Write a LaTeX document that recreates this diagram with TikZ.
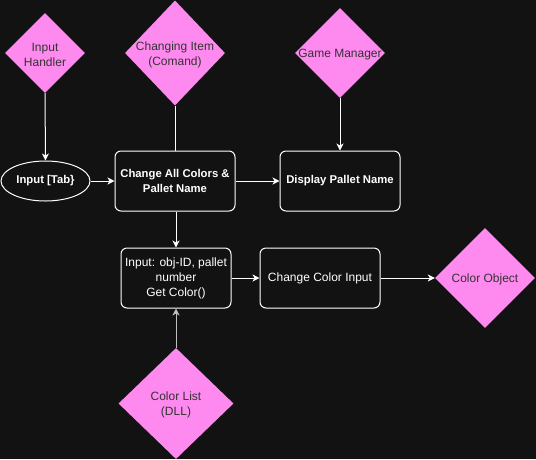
\documentclass[tikz,border=0pt]{standalone}
\usepackage{fontspec}
\setmainfont{Liberation Sans}
\usetikzlibrary{arrows.meta,shapes.geometric}
\definecolor{bgcol}{HTML}{121212}
\definecolor{pinkcol}{HTML}{FF8AEF}
\definecolor{darktxt}{HTML}{333333}
\tikzset{
  dia/.style={diamond, fill=pinkcol, inner sep=0pt, aspect=1},
  box/.style={draw=white, line width=1pt, rounded corners=6pt, fill=bgcol,
    text=white, align=center, minimum height=60pt, inner sep=0pt},
  arr/.style={draw=white, line width=1pt, -{Stealth[length=7pt,width=7pt,inset=2pt]}},
  txt/.style={font=\fontsize{12}{15}\selectfont},
  boldtxt/.style={font=\fontsize{11.3}{15}\selectfont\bfseries},
  diatxt/.style={text=darktxt, align=center, txt, yshift=-1.5pt}
}
\begin{document}
\begin{tikzpicture}[x=1pt,y=-1pt,txt]
\fill[bgcol] (0,0) rectangle (536,459);
\useasboundingbox (0,0) rectangle (536,459);
% diamonds
\node[dia, minimum width=80pt, minimum height=80pt,
  label={[diatxt]center:Input\\Handler}] (ih) at (45,53) {};
\node[dia, minimum width=100pt, minimum height=105pt,
  label={[diatxt]center:Changing Item\\(Comand)}] (ci) at (175,53) {};
\node[dia, minimum width=90pt, minimum height=90pt,
  label={[diatxt]center:Game Manager}] (gm) at (340,53) {};
\node[dia, minimum width=100pt, minimum height=100pt,
  label={[diatxt]center:Color Object}] (co) at (485,278) {};
\node[dia, minimum width=115pt, minimum height=111pt,
  label={[diatxt]center:Color List\\(DLL)}] (cl) at (176,403.5) {};
% boxes
\node[ellipse, draw=white, line width=1pt, text=white, boldtxt,
  minimum width=89pt, minimum height=40pt, inner sep=0pt] (tab) at (45.5,181) {Input [Tab\}};
\node[box, minimum width=120pt, boldtxt] (chg) at (175,181) {Change All Colors \&\\Pallet Name};
\node[box, minimum width=120pt, boldtxt] (disp) at (340,181) {Display Pallet Name};
\node[box, minimum width=110pt] (inp) at (176,278) {Input: obj-ID, pallet\\number\\Get Color()};
\node[box, minimum width=120pt] (cci) at (320,278) {Change Color Input};
% connectors
\draw[arr] (ih.south) -- (tab.north);
\draw[white, line width=1pt] (ci.south) -- (chg.north);
\draw[arr] (tab.east) -- (chg.west);
\draw[arr] (chg.east) -- (disp.west);
\draw[arr] (gm.south) -- (disp.north);
\draw[arr] (chg.south -| inp.north) -- (inp.north);
\draw[arr, draw=lightgray] (cl.north) -- (inp.south);
\draw[arr] (inp.east) -- (cci.west);
\draw[arr] (cci.east) -- (co.west);
\end{tikzpicture}
\end{document}
